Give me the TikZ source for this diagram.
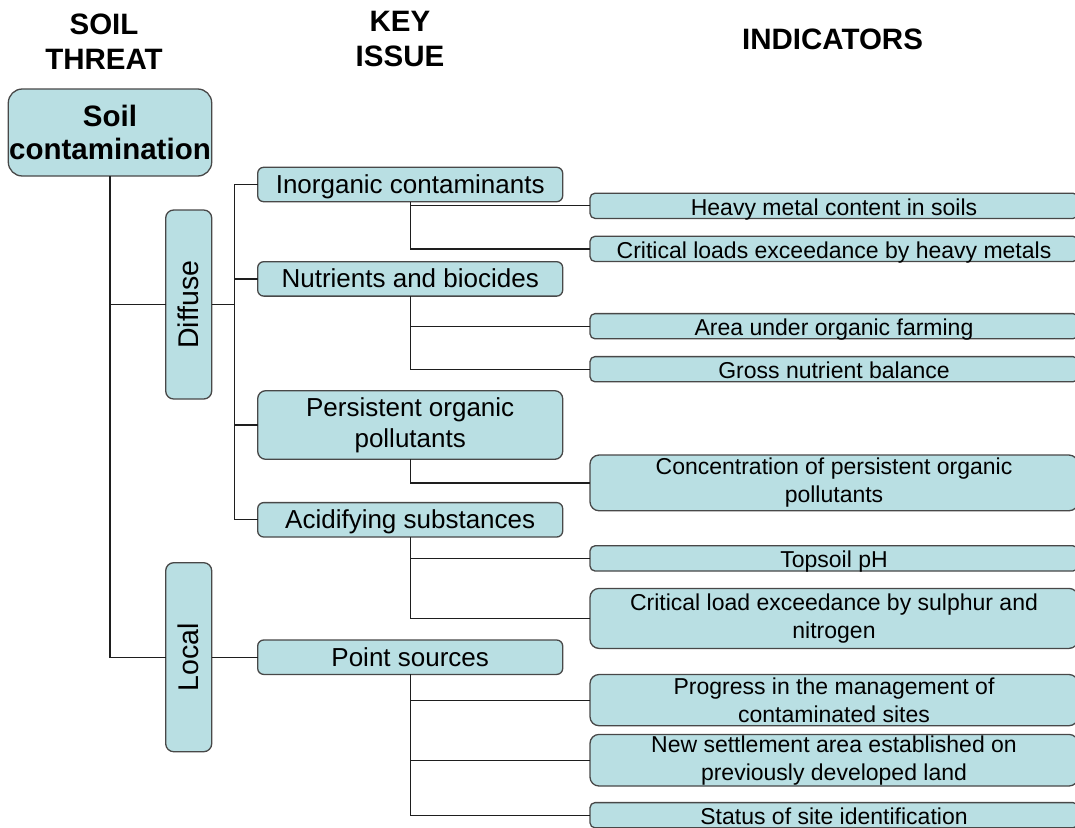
\documentclass[tikz,border=0pt]{standalone}
\usepackage{fontspec}
\usepackage{graphicx}
\setmainfont{Liberation Sans}
\definecolor{boxfill}{RGB}{185,223,227}
\definecolor{boxline}{RGB}{72,72,72}
\definecolor{linkline}{RGB}{30,30,30}
\begin{document}
\begin{tikzpicture}[x=1pt,y=-1pt,
  every node/.style={inner sep=0pt, outer sep=0pt},
  hdr/.style={align=center, font=\fontsize{29.5}{35}\selectfont\bfseries},
  basebox/.style={draw=boxline, fill=boxfill, line width=1.3pt, align=center},
  soilbox/.style={basebox, rounded corners=14pt, minimum width=203.4, minimum height=87,
    font=\fontsize{29.5}{33.4}\selectfont\bfseries},
  rotbox/.style={basebox, rounded corners=8pt, minimum width=46, minimum height=189,
    font=\fontsize{28.5}{34}\selectfont},
  kbox/.style={basebox, rounded corners=6pt, minimum width=305, minimum height=34.4,
    font=\fontsize{26}{31.2}\selectfont, text height=18.7pt, text depth=1pt},
  kboxtwo/.style={basebox, rounded corners=8pt, minimum width=305, minimum height=68.6,
    font=\fontsize{26}{31.2}\selectfont},
  ibox/.style={basebox, rounded corners=5pt, minimum width=488, minimum height=25.2,
    font=\fontsize{23}{28}\selectfont, text height=19.5pt, text depth=1.1pt},
  iboxtwo/.style={basebox, rounded corners=9pt, minimum width=488,
    font=\fontsize{23}{28}\selectfont},
  link/.style={draw=linkline, line width=1.2pt}
]
\useasboundingbox (0,0) rectangle (1075,827);
\fill[white] (0,0) rectangle (1075,827);
\clip (0,0) rectangle (1075,827);

% headers
\node[hdr] (hthreat) at (104,41.8) {SOIL\\THREAT};
\node[hdr] (hissue) at (400,39.1) {KEY\\ISSUE};
\node[hdr] (hind) at (832.5,39.4) {INDICATORS};

% soil threat
\node[soilbox] (soil) at (110,132.5) {Soil\\contamination};
\node[rotbox] (diffuse) at (188.7,304.5) {\rotatebox{90}{Diffuse}};
\node[rotbox] (local) at (188.7,657.2) {\rotatebox{90}{Local}};

% key issues
\node[kbox] (inorg) at (410.2,184.5) {Inorganic contaminants};
\node[kbox] (nutr) at (410.2,278.9) {Nutrients and biocides};
\node[kboxtwo] (pers) at (410.2,425) {Persistent organic\\pollutants};
\node[kbox] (acid) at (410.2,519.8) {Acidifying substances};
\node[kbox] (point) at (410.2,657.2) {Point sources};

% indicators
\node[ibox] (heavy) at (834,205.8) {Heavy metal content in soils};
\node[ibox] (critheavy) at (834,248.9) {Critical loads exceedance by heavy metals};
\node[ibox] (area) at (834,326.2) {Area under organic farming};
\node[ibox] (gross) at (834,369.2) {Gross nutrient balance};
\node[iboxtwo, minimum height=55.7] (conc) at (834,482.9) {Concentration of persistent organic\\pollutants};
\node[ibox] (topsoil) at (834,558.4) {Topsoil pH};
\node[iboxtwo, minimum height=60] (critsul) at (834,618.4) {Critical load exceedance by sulphur and\\nitrogen};
\node[iboxtwo, minimum height=51.2] (progress) at (834,700.1) {Progress in the management of\\contaminated sites};
\node[iboxtwo, minimum height=51.6] (settle) at (834,760.2) {New settlement area established on\\previously developed land};
\node[ibox, text depth=0pt] (status) at (834,815.2) {Status of site identification};

\coordinate (dtrunk) at (234.3,0);

% connectors: soil threat
\draw[link] (soil.south) |- (local.west);
\draw[link] (diffuse.west) -- (diffuse.west -| soil.south);
\draw[link] (local.east) -- (point.west);

% connectors: diffuse to key issues
\draw[link] (diffuse.east) -- (diffuse.east -| dtrunk);
\draw[link] (inorg.west) -| (acid.west -| dtrunk) -- (acid.west);
\draw[link] (nutr.west) -- (nutr.west -| dtrunk);
\draw[link] (pers.west) -- (pers.west -| dtrunk);

% connectors: key issues to indicators
\draw[link] (inorg.south) |- (critheavy.west);
\draw[link] (heavy.west) -- (heavy.west -| inorg.south);
\draw[link] (nutr.south) |- (gross.west);
\draw[link] (area.west) -- (area.west -| nutr.south);
\draw[link] (pers.south) |- (conc.west);
\draw[link] (acid.south) |- (critsul.west);
\draw[link] (topsoil.west) -- (topsoil.west -| acid.south);
\draw[link] (point.south) |- (status.west);
\draw[link] (progress.west) -- (progress.west -| point.south);
\draw[link] (settle.west) -- (settle.west -| point.south);
\end{tikzpicture}
\end{document}
